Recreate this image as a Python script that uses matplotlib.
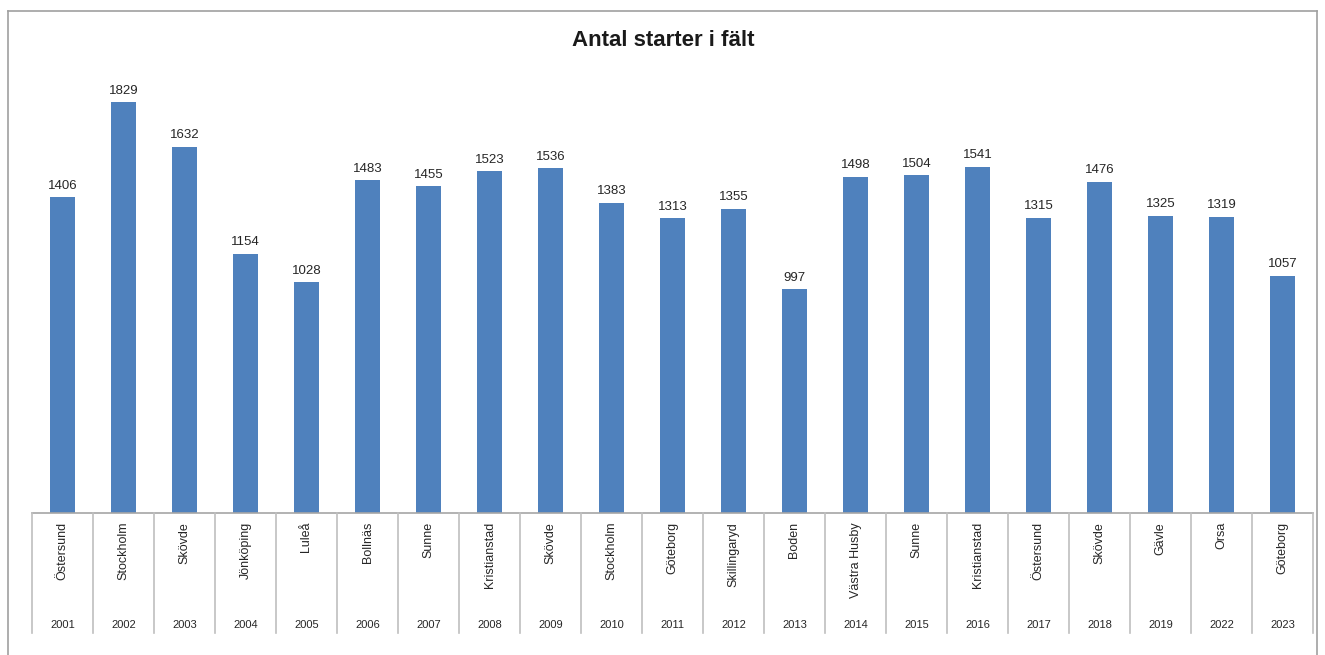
import matplotlib
matplotlib.use("Agg")
import matplotlib.pyplot as plt
import matplotlib.transforms as mtransforms
from matplotlib.lines import Line2D

plt.rcParams['font.family'] = ['Liberation Sans', 'DejaVu Sans']

# Data: city and year of each event, number of starts
cities = ["Östersund", "Stockholm", "Skövde", "Jönköping", "Luleå", "Bollnäs",
          "Sunne", "Kristianstad", "Skövde", "Stockholm", "Göteborg", "Skillingaryd",
          "Boden", "Västra Husby", "Sunne", "Kristianstad", "Östersund", "Skövde",
          "Gävle", "Orsa", "Göteborg"]
years = ["2001", "2002", "2003", "2004", "2005", "2006", "2007", "2008", "2009",
         "2010", "2011", "2012", "2013", "2014", "2015", "2016", "2017", "2018",
         "2019", "2022", "2023"]
starts = [1406, 1829, 1632, 1154, 1028, 1483, 1455, 1523, 1536, 1383, 1313,
          1355, 997, 1498, 1504, 1541, 1315, 1476, 1325, 1319, 1057]

W, H = 1325, 655
fig = plt.figure(figsize=(W / 100, H / 100), dpi=100, facecolor="white")

# Plot area in pixel terms
left, right, top, base = 32, 1313, 64, 513
ax = fig.add_axes([left / W, 1 - base / H, (right - left) / W, (base - top) / H])

x = list(range(len(starts)))
bars = ax.bar(x, starts, width=0.41, color="#4F81BD", edgecolor="none")
ax.set_xlim(-0.5, len(starts) - 0.5)
ax.set_ylim(0, 2000)

for xi, v in zip(x, starts):
    ax.annotate(str(v), (xi, v), xytext=(0, 4), textcoords="offset points",
                ha="center", va="bottom", fontsize=9.5, color="#262626")

for s in ["top", "right", "left"]:
    ax.spines[s].set_visible(False)
ax.spines["bottom"].set_color("#A6A6A6")
ax.spines["bottom"].set_linewidth(1.2)
ax.set_xticks([])
ax.set_yticks([])

# Two-level category axis (city / year)
trans = mtransforms.blended_transform_factory(ax.transData, fig.transFigure)
y_top = 1 - base / H
y_bot = 1 - 633 / H
for i in range(len(starts) + 1):
    fig.add_artist(Line2D([i - 0.5, i - 0.5], [y_top, y_bot], transform=trans,
                          color="#BFBFBF", lw=1.2))
for i, (c, yr) in enumerate(zip(cities, years)):
    fig.text(i, 1 - 522 / H, c, transform=trans, rotation=90,
             ha="center", va="top", fontsize=9, color="#262626")
    fig.text(i, 1 - 625 / H, yr, transform=trans,
             ha="center", va="center", fontsize=8, color="#262626")

fig.text(663 / W, 1 - 40 / H, "Antal starter i fält", ha="center", va="center",
         fontsize=16, fontweight="bold", color="#1a1a1a")

# Outer chart frame
frame_col = "#A0A0A0"
fig.add_artist(Line2D([8 / W, 1317 / W], [1 - 10.5 / H] * 2, color=frame_col, lw=1.2))
fig.add_artist(Line2D([8 / W] * 2, [1 - 10.5 / H, 0], color=frame_col, lw=1.2))
fig.add_artist(Line2D([1317 / W] * 2, [1 - 10.5 / H, 0], color=frame_col, lw=1.2))

fig.savefig("out.png", dpi=100, facecolor="white")
